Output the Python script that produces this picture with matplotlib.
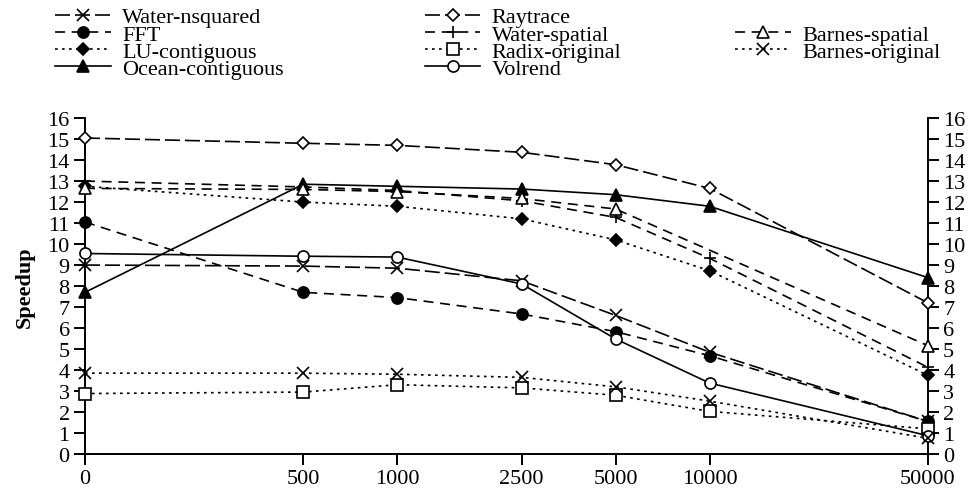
import numpy as np
import matplotlib
matplotlib.use("Agg")
import matplotlib.pyplot as plt
from matplotlib.lines import Line2D

plt.rcParams['font.family'] = ['Liberation Serif', 'DejaVu Serif']

# problem sizes (0 is drawn at 100 on the log axis)
sizes = [0, 500, 1000, 2500, 5000, 10000, 50000]
size_labels = ['0', '500', '1000', '2500', '5000', '10000', '50000']

water_nsquared = [9.0, 8.95, 8.85, 8.25, 6.6, 4.85, 1.55]
raytrace = [15.05, 14.8, 14.7, 14.37, 13.78, 12.65, 7.2]
fft = [11.05, 7.7, 7.45, 6.67, 5.83, 4.68, 1.55]
water_spatial = [13.0, 12.72, 12.55, 12.06, 11.27, 9.32, 4.13]
barnes_spatial = [12.65, 12.6, 12.5, 12.17, 11.67, None, 5.16]
lu_contiguous = [12.75, 12.0, 11.8, 11.2, 10.2, 8.73, 3.75]
radix_original = [2.88, 2.95, 3.3, 3.15, 2.8, 2.03, 1.2]
barnes_original = [3.85, 3.85, 3.8, 3.65, 3.2, 2.52, 0.75]
ocean_contiguous = [7.7, 12.85, 12.75, 12.62, 12.35, 11.8, 8.4]
volrend = [9.55, 9.42, 9.38, 8.1, 5.48, 3.38, 0.87]

xpos = [100 if s == 0 else s for s in sizes]

LONG = (9, 3)
MED = (6, 4)
DOT = (1.6, 2.6)

# name, values, dashes, marker, filled
series = [
    ('Water-nsquared', water_nsquared, LONG, 'x', True),
    ('FFT', fft, MED, 'o', True),
    ('LU-contiguous', lu_contiguous, DOT, 'D', True),
    ('Ocean-contiguous', ocean_contiguous, None, '^', True),
    ('Raytrace', raytrace, LONG, 'D', False),
    ('Water-spatial', water_spatial, MED, '+', True),
    ('Radix-original', radix_original, DOT, 's', False),
    ('Volrend', volrend, None, 'o', False),
    ('Barnes-spatial', barnes_spatial, MED, '^', False),
    ('Barnes-original', barnes_original, DOT, 'x', True),
]

fig = plt.figure(figsize=(9.7, 4.89), dpi=100)
ax = fig.add_axes([0.0876, 0.0695, 0.869, 0.687])

handles = {}
for name, vals, dashes, marker, filled in series:
    xs = [x for x, v in zip(xpos, vals) if v is not None]
    ys = [v for v in vals if v is not None]
    ms = 8
    if marker == 'D':
        ms = 6.5
    if marker in ('x', '+'):
        ms = 9
    line, = ax.plot(xs, ys, color='black', lw=1.2, marker=marker, ms=ms,
                    mfc='black' if filled else 'white', mec='black', mew=1.2,
                    clip_on=False, zorder=3)
    if dashes is not None:
        line.set_dashes(dashes)
    handles[name] = line

ax.set_xscale('log')
ax.set_xlim(100, 50000)
ax.set_ylim(0, 16)
ax.set_xticks(xpos)
ax.set_xticklabels(size_labels)
ax.xaxis.set_minor_locator(matplotlib.ticker.NullLocator())
ax.set_yticks(range(0, 17))
ax.spines['top'].set_visible(False)
for sp in ['left', 'right', 'bottom']:
    ax.spines[sp].set_linewidth(1.4)
ax.tick_params(axis='both', direction='out', length=8, width=1.4, labelsize=16, pad=3)
ax.tick_params(axis='y', right=True, labelright=True)
ax.set_ylabel('Speedup', fontsize=16, fontweight='bold', labelpad=9)

blank = Line2D([], [], linestyle='none', marker=None)
cols = [
    (['Water-nsquared', 'FFT', 'LU-contiguous', 'Ocean-contiguous'], 0.057),
    (['Raytrace', 'Water-spatial', 'Radix-original', 'Volrend'], 0.438),
    ([None, 'Barnes-spatial', 'Barnes-original'], 0.758),
]
for names, xa in cols:
    hs = [handles[n] if n else blank for n in names]
    ls = [n if n else ' ' for n in names]
    fig.legend(hs, ls, loc='upper left', bbox_to_anchor=(xa, 0.984), frameon=False,
               fontsize=16, handlelength=2.5, handletextpad=0.5, labelspacing=-0.15,
               borderaxespad=0, borderpad=0)

fig.savefig('out.png', dpi=100)
